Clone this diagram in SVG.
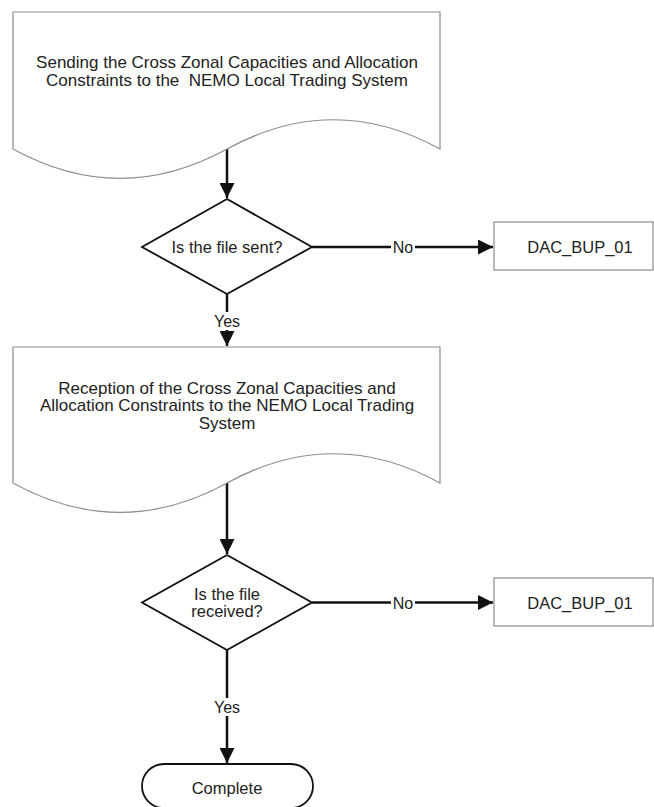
<svg xmlns="http://www.w3.org/2000/svg" width="654" height="807" viewBox="0 0 654 807">
<style>
.doc{fill:#fff;stroke:#8c8c8c;stroke-width:1.2}
.box{fill:#fff;stroke:#8c8c8c;stroke-width:1.2}
.dec{fill:#fff;stroke:#111;stroke-width:1.8}
.term{fill:#fff;stroke:#111;stroke-width:1.8}
.t{font-family:"Liberation Sans",Arial,sans-serif;font-size:17px;fill:#222;text-anchor:middle;dominant-baseline:central;white-space:pre}
.d{font-size:16.5px}
.lbl{font-family:"Liberation Sans",Arial,sans-serif;font-size:16px;fill:#222;text-anchor:middle;dominant-baseline:central}
.c{fill:none;stroke:#111;stroke-width:2.5}
</style>
<defs>
<marker id="ah" markerUnits="userSpaceOnUse" markerWidth="15" markerHeight="15" viewBox="0 0 10 10" refX="10" refY="5" orient="auto">
<path d="M0,0 L10,5 L0,10 z" fill="#111"/>
</marker>
</defs>
<g id="connectors">
<line class="c" x1="227" y1="149" x2="227" y2="198" marker-end="url(#ah)"/>
<line class="c" x1="312" y1="247" x2="493" y2="247" marker-end="url(#ah)"/>
<line class="c" x1="227" y1="294" x2="227" y2="346" marker-end="url(#ah)"/>
<line class="c" x1="227" y1="483" x2="227" y2="554" marker-end="url(#ah)"/>
<line class="c" x1="312" y1="602.5" x2="493" y2="602.5" marker-end="url(#ah)"/>
<line class="c" x1="227" y1="650" x2="227" y2="763" marker-end="url(#ah)"/>
<rect x="391" y="238" width="24" height="18" fill="#fff"/>
<text class="lbl" x="403" y="247">No</text>
<rect x="391" y="594" width="24" height="18" fill="#fff"/>
<text class="lbl" x="403" y="603">No</text>
<rect x="212" y="312" width="30" height="18" fill="#fff"/>
<text class="lbl" x="227" y="321">Yes</text>
<rect x="212" y="698" width="30" height="18" fill="#fff"/>
<text class="lbl" x="227" y="707">Yes</text>
</g>
<g id="doc1">
<path class="doc" d="M13,12 H440 V149 C369,110 298,110 227,149 C156,188 84,188 13,149 Z"/>
<text class="t" x="227" y="62">Sending the Cross Zonal Capacities and Allocation</text>
<text class="t" x="227" y="80">Constraints to the  NEMO Local Trading System</text>
</g>
<g id="dec1">
<polygon class="dec" points="227,199 312,247 227,294 142,247"/>
<text class="t d" x="227" y="247">Is the file sent?</text>
</g>
<g id="box1">
<rect class="box" x="494" y="222" width="159" height="48"/>
<text class="t d" x="580" y="247">DAC_BUP_01</text>
</g>
<g id="doc2">
<path class="doc" d="M13,347 H440 V483 C369,444 298,444 227,483 C156,522 84,522 13,483 Z"/>
<text class="t" x="227" y="388">Reception of the Cross Zonal Capacities and</text>
<text class="t" x="227" y="405.5">Allocation Constraints to the NEMO Local Trading</text>
<text class="t" x="227" y="423">System</text>
</g>
<g id="dec2">
<polygon class="dec" points="227,555 312,602.5 227,650 142,602.5"/>
<text class="t d" x="227" y="594">Is the file</text>
<text class="t d" x="227" y="611">received?</text>
</g>
<g id="box2">
<rect class="box" x="494" y="578" width="159" height="48"/>
<text class="t d" x="580" y="603">DAC_BUP_01</text>
</g>
<g id="complete">
<rect class="term" x="142" y="764" width="171" height="44" rx="22" ry="22"/>
<text class="t d" x="227" y="788">Complete</text>
</g>
</svg>
